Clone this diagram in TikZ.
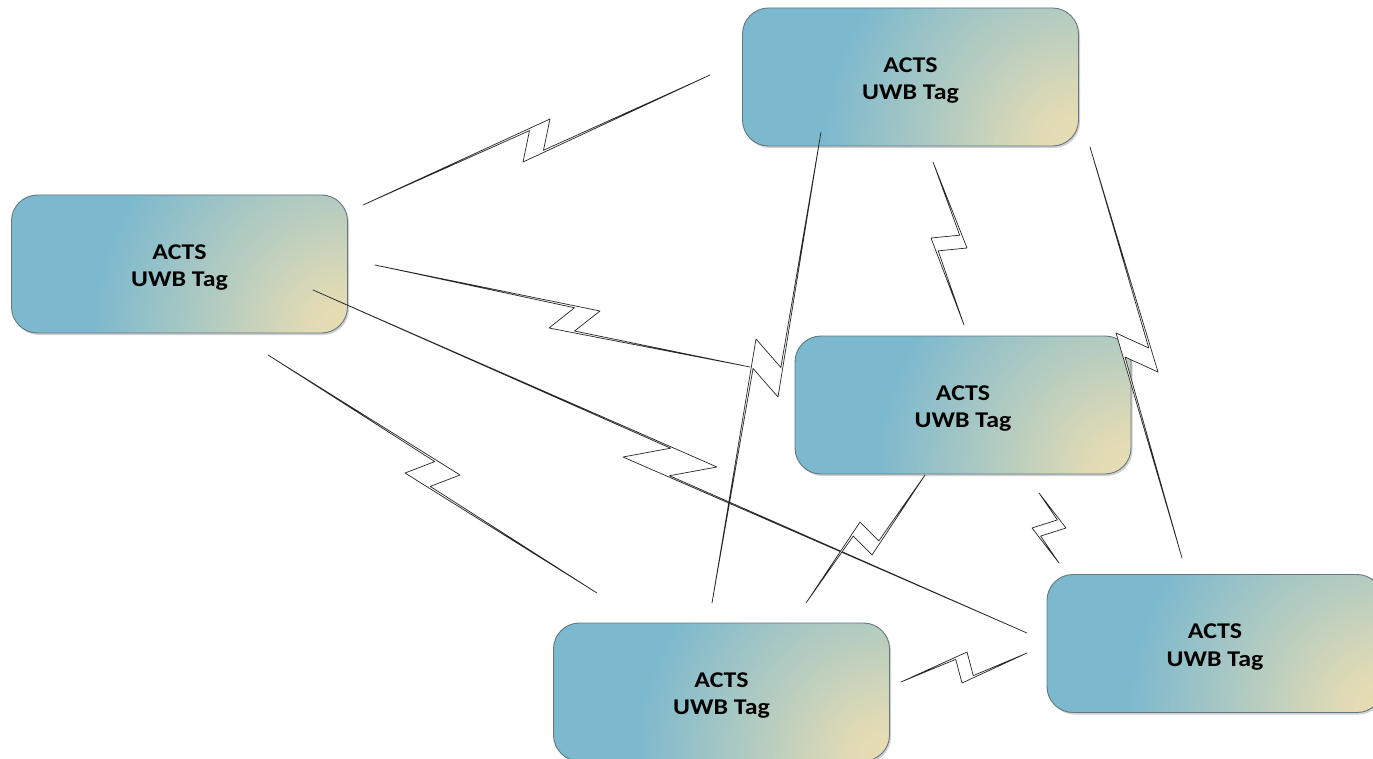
\documentclass[tikz,border=0pt]{standalone}
\usepackage{fontspec}
\setmainfont{Carlito}[FakeStretch=1.15]
\usetikzlibrary{calc,shadows}
\definecolor{tagblue}{RGB}{124,185,206}
\definecolor{tagbeige}{RGB}{234,222,178}
\definecolor{tagedge}{RGB}{100,120,130}
\pgfdeclareradialshading{tagshade}{\pgfpoint{0bp}{0bp}}{color(0bp)=(tagbeige); color(2.5bp)=(tagbeige!90!tagblue); color(7bp)=(tagbeige!55!tagblue); color(14.5bp)=(tagblue); color(50bp)=(tagblue)}
\tikzset{
  tag/.style={draw=tagedge, line width=0.9pt, rounded corners=26pt,
    minimum width=336pt, minimum height=138pt, align=center, inner sep=0pt,
    font=\fontsize{22.5}{27.5}\selectfont\bfseries,
    path picture={\shade[shading=tagshade]
      (path picture bounding box.south east) circle (440pt);},
    drop shadow={shadow xshift=1.5pt, shadow yshift=-2pt, opacity=0.3, fill=black!60}},
  bolt/.style={draw=black!85, fill=white, line width=0.7pt, line join=round}
}
\newcommand\tagtext{\rule{0pt}{21.8pt}ACTS\\UWB Tag}
% lightning connector: #1 start, #2 first tip, #3 second tip, #4 end, #5 notch distance, #6 width
\newcommand\zbolt[6]{%
  \coordinate (zD0) at ($(#2)!#5!(#1)$);
  \coordinate (zB0) at ($(#3)!#5!(#4)$);
  \coordinate (zD) at ($(zD0)!#6!(#3)$);
  \coordinate (zB) at ($(zB0)!#6!(#2)$);
  \draw[bolt] (#1) -- (#2) -- (zB) -- (#4) -- (#3) -- (zD) -- cycle;
}
\begin{document}
\begin{tikzpicture}[x=1pt,y=-1pt]
\useasboundingbox (0,0) rectangle (1373,759);
\clip (0,0) rectangle (1373,759);
\fill[white] (0,0) rectangle (1373,759);

\node[tag] (top)    at (910.5,77) {\tagtext};
\node[tag] (left)   at (179.5,264) {\tagtext};
\node[tag] (mid)    at (963,405) {\tagtext};
\node[tag] (bottom) at (721.5,692) {\tagtext};
\node[tag] (right)  at (1215,643.5) {\tagtext};

% left -> top
\coordinate (b1s) at (363,205); \coordinate (b1a) at (550,119);
\coordinate (b1c) at (523,162); \coordinate (b1e) at (710,75);
\zbolt{b1s}{b1a}{b1c}{b1e}{22pt}{2.5pt}
% left -> mid
\coordinate (b2s) at (375,265); \coordinate (b2a) at (600,311);
\coordinate (b2c) at (549,328); \coordinate (b2e) at (750,367);
\zbolt{b2s}{b2a}{b2c}{b2e}{24pt}{2.5pt}
% left -> bottom
\coordinate (b3s) at (268,355); \coordinate (b3a) at (460,475);
\coordinate (b3c) at (405,473); \coordinate (b3e) at (597,593);
\zbolt{b3s}{b3a}{b3c}{b3e}{27pt}{2.5pt}
% left -> right
\coordinate (b4s) at (313,290); \coordinate (b4a) at (717,467);
\coordinate (b4c) at (623,457); \coordinate (b4e) at (1027,633);
\zbolt{b4s}{b4a}{b4c}{b4e}{48pt}{2.5pt}
% top -> bottom
\coordinate (b5s) at (821,132); \coordinate (b5a) at (778,397);
\coordinate (b5c) at (756,339); \coordinate (b5e) at (712,603);
\zbolt{b5s}{b5a}{b5c}{b5e}{28pt}{2.5pt}
% top -> mid
\coordinate (b6s) at (933,162); \coordinate (b6a) at (967,248);
\coordinate (b6c) at (931,238); \coordinate (b6e) at (964,325);
\zbolt{b6s}{b6a}{b6c}{b6e}{14pt}{2.2pt}
% top -> right
\coordinate (b7s) at (1090,147); \coordinate (b7a) at (1158,372);
\coordinate (b7c) at (1116,333); \coordinate (b7e) at (1182,558);
\zbolt{b7s}{b7a}{b7c}{b7e}{24pt}{2.5pt}
% mid -> bottom
\coordinate (b8s) at (925,475); \coordinate (b8a) at (872,555);
\coordinate (b8c) at (860,522); \coordinate (b8e) at (806,603);
\zbolt{b8s}{b8a}{b8c}{b8e}{15pt}{2.2pt}
% mid -> right
\coordinate (b9s) at (1039,493); \coordinate (b9a) at (1066,528);
\coordinate (b9c) at (1032,528); \coordinate (b9e) at (1059,563);
\zbolt{b9s}{b9a}{b9c}{b9e}{11pt}{2pt}
% bottom -> right
\coordinate (b10s) at (901,682); \coordinate (b10a) at (967,652);
\coordinate (b10c) at (962,683); \coordinate (b10e) at (1027,653);
\zbolt{b10s}{b10a}{b10c}{b10e}{13pt}{2pt}
\end{tikzpicture}
\end{document}
